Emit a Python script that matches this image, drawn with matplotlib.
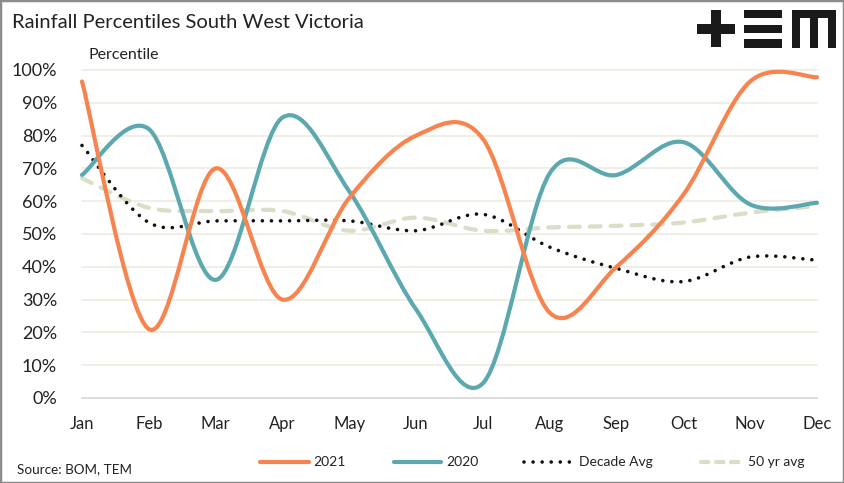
import numpy as np
import matplotlib
matplotlib.use('Agg')
import matplotlib.pyplot as plt
from matplotlib.path import Path
from matplotlib.patches import PathPatch, Rectangle
from matplotlib.lines import Line2D

plt.rcParams['font.family'] = ['Lato', 'DejaVu Sans']

months = ['Jan', 'Feb', 'Mar', 'Apr', 'May', 'Jun', 'Jul', 'Aug', 'Sep', 'Oct', 'Nov', 'Dec']
y2021 = [96.5, 21, 70, 30, 61, 80, 79, 26, 40, 62, 96.5, 97.8]
y2020 = [68, 82, 36, 85.5, 63, 27, 4.5, 68.5, 68, 78, 59, 59.5]
decade = [77, 53.5, 54, 54, 54, 51, 56, 46, 39.5, 35.5, 43, 42]
fifty = [67, 58, 57, 57, 51, 55, 51, 52, 52.5, 53.5, 56.5, 58.5]

# Excel style smoothed line -> cubic bezier path
def smooth_path(ys):
    xs = np.arange(len(ys), dtype=float)
    pts = np.column_stack([xs, np.asarray(ys, dtype=float)])
    n = len(pts)
    verts = [pts[0]]
    codes = [Path.MOVETO]
    for i in range(n - 1):
        p0 = pts[i - 1] if i > 0 else pts[i]
        p1 = pts[i]
        p2 = pts[i + 1]
        p3 = pts[i + 2] if i + 2 < n else pts[i + 1]
        c1 = p1 + (p2 - p0) / 6.0
        c2 = p2 - (p3 - p1) / 6.0
        verts += [c1, c2, p2]
        codes += [Path.CURVE4] * 3
    return Path(verts, codes)

fig = plt.figure(figsize=(8.44, 4.83), dpi=100)
W, H = 844, 483
ax = fig.add_axes([82 / W, 1 - 398 / H, (817 - 82) / W, (398 - 70) / H])

ax.set_xlim(0, 11)
ax.set_ylim(0, 100)
for v in range(10, 101, 10):
    ax.axhline(v, color='#EEEEE3', lw=1.3, zorder=0, clip_on=False)
ax.axhline(0, color='#D9D9D9', lw=1.3, zorder=0, clip_on=False)

# data, colour, line style, width, label, legend line style
series = [
    (fifty, '#DADDC8', (0, (2.6, 2.4)), 3.0, '50 yr avg', (0, (1.8, 1.8))),
    (decade, '#111111', (0, (0.01, 2.5)), 2.6, 'Decade Avg', (0, (0.01, 2.5))),
    (y2020, '#5BA8AF', '-', 3.0, '2020', '-'),
    (y2021, '#F7844E', '-', 3.0, '2021', '-'),
]
for ys, col, ls, lw, lab, _ in series:
    patch = PathPatch(smooth_path(ys), fill=False, edgecolor=col, lw=lw, linestyle=ls,
                      capstyle='round', joinstyle='round', clip_on=False, label=lab)
    ax.add_patch(patch)

for s in ax.spines.values():
    s.set_visible(False)
ax.set_xticks(range(12))
ax.set_xticklabels(months, fontsize=12, color='#222222')
ax.set_yticks(range(0, 101, 10))
ax.set_yticklabels([f'{v}%' for v in range(0, 101, 10)], fontsize=13, color='#222222')
ax.tick_params(length=0)
ax.tick_params(axis='x', pad=13)
ax.tick_params(axis='y', pad=18)

fig.text(12 / W, 1 - 22 / H, 'Rainfall Percentiles South West Victoria', fontsize=14.5,
         va='center', ha='left', color='#222222')
fig.text(88 / W, 1 - 55 / H, 'Percentile', fontsize=11.5, va='center', ha='left', color='#222222')
fig.text(17 / W, 1 - 469 / H, 'Source: BOM, TEM', fontsize=9.7, va='center', ha='left', color='#222222')

# legend drawn by hand: (handle start, handle end, text x)
leg_pos = {'2021': (260, 309, 313), '2020': (394, 441, 446),
           'Decade Avg': (524, 570, 579), '50 yr avg': (701, 740, 748)}
ly = 1 - 462 / H
for ys, col, ls, lw, lab, lls in series:
    x0, x1, tx = leg_pos[lab]
    fig.add_artist(Line2D([x0 / W, x1 / W], [ly, ly], transform=fig.transFigure, color=col,
                          lw=lw, linestyle=lls, solid_capstyle='round', dash_capstyle='round'))
    fig.text(tx / W, ly, lab, fontsize=10, va='center', ha='left', color='#222222')

# logo
def frect(x0, y0, x1, y1):
    fig.patches.append(Rectangle((x0 / W, 1 - y1 / H), (x1 - x0) / W, (y1 - y0) / H,
                                 transform=fig.transFigure, color='#1A1A1A', lw=0))

frect(711, 10, 721, 47)
frect(697, 24, 735, 34)
for y0, y1 in [(10, 18), (25, 33), (39, 48)]:
    frect(744, y0, 782, y1)
frect(792, 10, 836, 18)
frect(792, 10, 800, 48)
frect(810, 10, 818, 48)
frect(828, 10, 836, 48)

fig.patches.append(Rectangle((0, 0), 1, 1, transform=fig.transFigure, fill=False,
                             edgecolor='#8C8C8C', lw=2.5))

fig.savefig('out.png', dpi=100)
